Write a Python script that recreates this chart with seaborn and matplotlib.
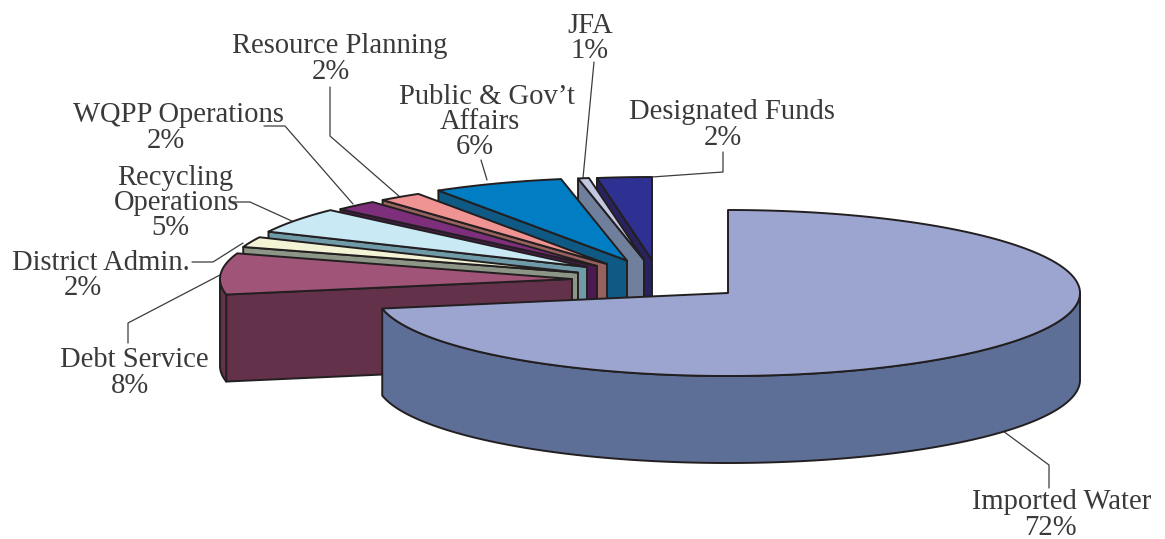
import numpy as np
import matplotlib
matplotlib.use("Agg")
import matplotlib.pyplot as plt
import seaborn as sns

# pie order, clockwise from 12 o'clock
categories = [
    "Imported Water", "Debt Service", "District Admin.", "Recycling Operations",
    "WQPP Operations", "Resource Planning", "Public & Gov't Affairs", "JFA",
    "Designated Funds",
]
# shares, JFA and Designated are rounded in the printed labels
shares = [72, 8, 2, 5, 2, 2, 6, 0.5, 2.5]
top_colors = ["#9BA5D0", "#A05478", "#F3F3D5", "#C9EAF5", "#7E2F7C",
              "#F09493", "#007DC3", "#C2C8E2", "#2E3191"]
side_colors = ["#5D6E97", "#64314B", "#8C9586", "#6F9AA8", "#4A1A50",
               "#96615F", "#0E5A85", "#6F7F9C", "#28235F"]
# where each slice's tip ended up after exploding it (pixels)
apex_x = [728, 572, 578, 587, 597, 607, 627, 644, 652]
apex_y = [293, 279, 272.6, 267, 266, 264, 260.6, 260, 260]

RX, RY, DEPTH = 352, 83, 87
EDGE = "#231F20"
TEXT = "#3A3A3A"

# (text, centre x, centre y)
label_lines = [
    ("Resource Planning", 340, 46), ("2%", 331, 72),
    ("JFA", 590, 26), ("1%", 590, 51),
    ("Public & Gov\u2019t", 487, 97), ("Affairs", 480, 122), ("6%", 475, 147),
    ("Designated Funds", 732, 112), ("2%", 723, 138),
    ("WQPP Operations", 178, 115), ("2%", 166, 141),
    ("Recycling", 175, 178), ("Operations", 177, 203), ("5%", 170, 228),
    ("District Admin.", 101, 263), ("2%", 83, 288),
    ("Debt Service", 134, 360), ("8%", 130, 386),
    ("Imported Water", 1062, 502), ("72%", 1050, 528),
]
leaders = [
    [(330, 87), (330, 136), (400, 197)],
    [(264, 126), (285, 126), (353, 204)],
    [(232, 202), (250, 202), (294, 222)],
    [(192, 262), (213, 262), (243, 243)],
    [(128, 343), (128, 323), (220, 275)],
    [(481, 160), (487, 180)],
    [(594, 62), (583, 178)],
    [(652, 177), (723, 172), (723, 152)],
    [(1003, 431), (1049, 465), (1049, 488)],
]

sns.set_theme(style="white")
plt.rcParams["font.family"] = ["Liberation Serif", "DejaVu Serif"]

fig, ax = plt.subplots(figsize=(11.65, 5.39), dpi=100)
fig.subplots_adjust(0, 0, 1, 1)
ax.set_xlim(0, 1165)
ax.set_ylim(539, 0)
ax.axis("off")


def rim(cx, cy, a0, a1, drop=0):
    t = np.radians(np.linspace(a0, a1, 200))
    return np.column_stack([cx + RX * np.cos(t), cy - RY * np.sin(t) + drop])


def draw_slice(cx, cy, a_hi, a_lo, top, side):
    # a_hi is the counter-clockwise edge, its cut face looks at the viewer
    if a_hi < 360:
        p = rim(cx, cy, a_hi, a_hi)[0]
        ax.fill([cx, p[0], p[0], cx], [cy, p[1], p[1] + DEPTH, cy + DEPTH],
                fc=side, ec=EDGE, lw=1.4, joinstyle="round")
    # outer wall, only the front half shows
    lo, hi = max(a_lo, 180), min(a_hi, 360)
    if hi > lo:
        wall = np.vstack([rim(cx, cy, lo, hi), rim(cx, cy, hi, lo, DEPTH)])
        ax.fill(wall[:, 0], wall[:, 1], fc=side, ec=EDGE, lw=1.4, joinstyle="round")
    pts = np.vstack([[[cx, cy]], rim(cx, cy, a_hi, a_lo)])
    ax.fill(pts[:, 0], pts[:, 1], fc=top, ec=EDGE, lw=1.4, joinstyle="round")


for path in leaders:
    xs, ys = zip(*path)
    ax.plot(xs, ys, color="#3C3C3C", lw=0.9, zorder=0.5)

# angles from the shares, clockwise from the top
edges = 90 - np.cumsum([0] + shares) * 3.6

# back slices first, the big one goes on top
for i in range(len(shares) - 1, 0, -1):
    a_hi = edges[i] % 360
    draw_slice(apex_x[i], apex_y[i], a_hi, a_hi - shares[i] * 3.6,
               top_colors[i], side_colors[i])

# imported water runs through 270 and 360, back up to 90+360
draw_slice(apex_x[0], apex_y[0], 450, 450 - shares[0] * 3.6,
           top_colors[0], side_colors[0])

for txt, x, y in label_lines:
    ax.text(x, y, txt, ha="center", va="center", fontsize=20.6, color=TEXT)

fig.savefig("out.png", dpi=100, facecolor="white")
